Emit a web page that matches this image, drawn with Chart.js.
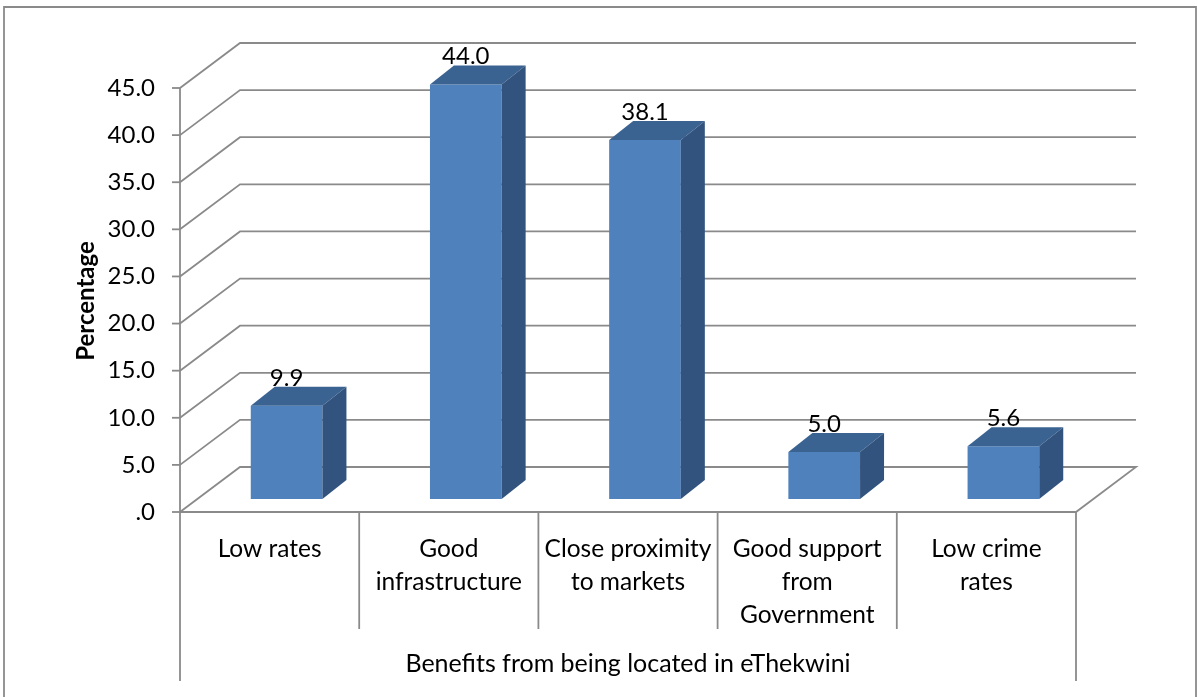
<!DOCTYPE html>
<html>
<head>
<meta charset="utf-8">
<script src="https://cdn.jsdelivr.net/npm/chart.js@4"></script>
<style>
  body { margin: 0; background: #fff; }
  canvas { display: block; }
</style>
</head>
<body>
<canvas id="benefits-chart" width="1198" height="697"></canvas>
<script>
// Data
var categories = [
  ["Low rates"],
  ["Good", "infrastructure"],
  ["Close proximity", "to markets"],
  ["Good support", "from", "Government"],
  ["Low crime", "rates"],
];
var percentages = [9.9, 44.0, 38.1, 5.0, 5.6];
var tickValues = [0, 5, 10, 15, 20, 25, 30, 35, 40, 45];
var tickLabels = [".0", "5.0", "10.0", "15.0", "20.0", "25.0", "30.0", "35.0", "40.0", "45.0"];
var valueLabels = ["9.9", "44.0", "38.1", "5.0", "5.6"];
var xTitle = "Benefits from being located in eThekwini";
var yTitle = "Percentage";

// 3D look
var wallDx = 60, wallDy = 45;   // back wall offset
var barDx = 17, barDy = 13;     // bars sit a bit behind the front plane
var sideDx = 24, sideDy = 19;   // depth of each column
var lineColor = "#8a8a8a";
var font = "Lato, 'Open Sans', sans-serif";

function line(ctx, pts) {
  ctx.beginPath();
  ctx.moveTo(pts[0][0], pts[0][1]);
  for (var i = 1; i < pts.length; i++) ctx.lineTo(pts[i][0], pts[i][1]);
  ctx.stroke();
}

var frame3d = {
  id: "frame3d",
  beforeDatasetsDraw: function (chart) {
    var ctx = chart.ctx;
    var area = chart.chartArea;
    var y = chart.scales.y;
    var x = chart.scales.x;
    var half = (x.getPixelForValue(1) - x.getPixelForValue(0)) / 2;

    ctx.save();
    ctx.strokeStyle = lineColor;
    ctx.lineWidth = 1.8;

    // outer border of the figure
    line(ctx, [[4, 700], [4, 7], [1196, 7], [1196, 700]]);

    // back wall gridlines + side wall diagonals
    tickValues.forEach(function (v) {
      var py = y.getPixelForValue(v);
      if (v === 0) return;
      line(ctx, [[area.left, py], [area.left + wallDx, py - wallDy], [area.right + wallDx, py - wallDy]]);
    });
    // floor
    var y0 = y.getPixelForValue(0);
    line(ctx, [[area.left, y0], [area.left + wallDx, y0 - wallDy], [area.right + wallDx, y0 - wallDy],
      [area.right, y0], [area.left, y0]]);

    // front value axis with tick marks
    line(ctx, [[area.left, area.top], [area.left, 681]]);
    tickValues.forEach(function (v) {
      var py = y.getPixelForValue(v);
      line(ctx, [[area.left - 8, py], [area.left, py]]);
    });

    // category table lines
    line(ctx, [[area.right, y0], [area.right, 681]]);
    for (var i = 1; i < categories.length; i++) {
      var sx = x.getPixelForValue(i) - half;
      line(ctx, [[sx, y0], [sx, 629]]);
    }

    // tick labels
    ctx.fillStyle = "#000";
    ctx.font = "24px " + font;
    ctx.textAlign = "right";
    ctx.textBaseline = "middle";
    tickValues.forEach(function (v, i) {
      ctx.fillText(tickLabels[i], 155, y.getPixelForValue(v));
    });

    // category labels
    ctx.textAlign = "center";
    ctx.font = "24.5px " + font;
    categories.forEach(function (lines, i) {
      var cx = x.getPixelForValue(i);
      lines.forEach(function (t, j) {
        ctx.fillText(t, cx, 549 + j * 33);
      });
    });

    // axis titles
    ctx.font = "25px " + font;
    ctx.fillText(xTitle, (area.left + area.right) / 2, 664);
    ctx.save();
    ctx.translate(86, 301);
    ctx.rotate(-Math.PI / 2);
    ctx.font = "bold 24px " + font;
    ctx.fillText(yTitle, 0, 0);
    ctx.restore();

    ctx.restore();

    // move the columns back into the box
    ctx.save();
    ctx.translate(barDx, -barDy);
  },
  afterDatasetsDraw: function (chart) {
    var ctx = chart.ctx;
    var bars = chart.getDatasetMeta(0).data;
    bars.forEach(function (bar, i) {
      var p = bar.getProps(["x", "y", "base", "width"], true);
      var l = p.x - p.width / 2, r = p.x + p.width / 2;
      // top face
      ctx.fillStyle = "#3b6392";
      ctx.beginPath();
      ctx.moveTo(l, p.y);
      ctx.lineTo(l + sideDx, p.y - sideDy);
      ctx.lineTo(r + sideDx, p.y - sideDy);
      ctx.lineTo(r, p.y);
      ctx.closePath();
      ctx.fill();
      // side face
      ctx.fillStyle = "#31537e";
      ctx.beginPath();
      ctx.moveTo(r, p.y);
      ctx.lineTo(r + sideDx, p.y - sideDy);
      ctx.lineTo(r + sideDx, p.base - sideDy);
      ctx.lineTo(r, p.base);
      ctx.closePath();
      ctx.fill();
      // value label
      ctx.fillStyle = "#000";
      ctx.font = "24px " + font;
      ctx.textAlign = "center";
      ctx.textBaseline = "alphabetic";
      ctx.fillText(valueLabels[i], p.x, p.y - 20);
    });
    ctx.restore();
  },
};

var ctx = document.getElementById("benefits-chart").getContext("2d");
var chart = new Chart(ctx, {
  type: "bar",
  data: {
    labels: categories,
    datasets: [{
      data: percentages,
      backgroundColor: "#4f81bd",
      borderWidth: 0,
      categoryPercentage: 1,
      barPercentage: 0.4,
      clip: false,
    }],
  },
  options: {
    responsive: false,
    animation: false,
    layout: { padding: { left: 180, right: 122, top: 88, bottom: 185 } },
    plugins: { legend: { display: false }, tooltip: { enabled: false } },
    scales: {
      x: { display: false, offset: true },
      y: { display: false, min: 0, max: 45 },
    },
  },
  plugins: [frame3d],
});
</script>
</body>
</html>
